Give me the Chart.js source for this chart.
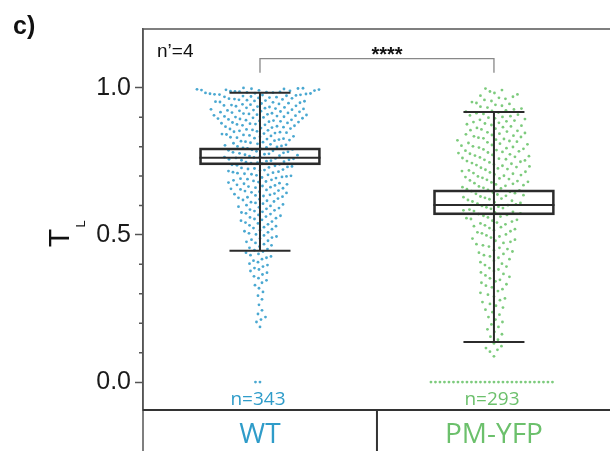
<!DOCTYPE html>
<html>
<head>
<meta charset="utf-8">
<script src="https://cdn.jsdelivr.net/npm/chart.js@4.4.1/dist/chart.umd.min.js"></script>
<style>
  html, body { margin: 0; padding: 0; background: #fff; overflow: hidden; }
  #wrap { width: 614px; height: 451px; position: relative; }
</style>
</head>
<body>
<div id="wrap"><canvas id="chart"></canvas></div>
<script>
// ===== Data =====
const categories = ['WT', 'PM-YFP'];
const sampleSizes = [343, 293];
const binWidth = 0.025;
// point counts per 0.025 bin of T_L, starting at 0.0
const wtBinCounts = [0, 0, 0, 0, 0, 0, 0, 1, 3, 2,
                     1, 2, 2, 3, 4, 5, 5, 6, 6, 7,
                     7, 8, 9, 10, 10, 12, 13, 13, 14, 14,
                     16, 15, 14, 16, 16, 19, 21, 19, 20, 28];
const pmBinCounts = [0, 0, 0, 1, 4, 2, 3, 3, 3, 3,
                     4, 4, 4, 5, 5, 5, 5, 6, 6, 7,
                     7, 8, 9, 10, 10, 11, 11, 11, 11, 11,
                     12, 12, 11, 11, 10, 10, 10, 8, 7, 5];
const zeroCounts = [2, 28];
const boxLow = [0.738, 0.568];
const boxHigh = [0.796, 0.653];
const medians = [0.762, 0.602];
const whiskerLow = [0.446, 0.136];
const whiskerHigh = [0.983, 0.918];
const yTicks = [0, 0.5, 1.0];
const yMinorTicks = [0.1, 0.2, 0.3, 0.4, 0.6, 0.7, 0.8, 0.9];

// ===== Styles =====
const pointColors = ['#4aa8d1', '#7dcb7d'];
const labelColors = ['#2f9cc9', '#6cc06c'];
const BOX_WIDTH = 121;
const CAP_WIDTH = 61;
const SWARM_GAP_X = 4.3;
const SWARM_GAP_Y = [7.5, 10];

// expand bin counts to values (evenly spaced inside each bin)
function valuesFromBins(counts, zeros) {
    const vals = [];
    for (let i = 0; i < zeros; i++) vals.push(0);
    counts.forEach((n, b) => {
        for (let k = 0; k < n; k++) {
            vals.push(b * binWidth + (k + 0.5) / n * binWidth);
        }
    });
    return vals;
}

const groupValues = [
    valuesFromBins(wtBinCounts, zeroCounts[0]),
    valuesFromBins(pmBinCounts, zeroCounts[1])
];

// beeswarm layout in pixel space -> x offsets
function swarmOffsets(pixYs, gx, gy) {
    const placed = [];
    const offsets = [];
    pixYs.forEach((py, idx) => {
        const near = placed.filter(p => Math.abs(p.y - py) < gy);
        let chosen = 0;
        for (let k = 0; k < 400; k++) {
            const step = k * 0.5;
            const cands = (idx % 2 === 0) ? [step, -step] : [-step, step];
            let ok = null;
            for (const cx of cands) {
                const hit = near.some(p => {
                    const dx = (p.x - cx) / gx, dy = (p.y - py) / gy;
                    return dx * dx + dy * dy < 1;
                });
                if (!hit) { ok = cx; break; }
            }
            if (ok !== null) { chosen = ok; break; }
        }
        placed.push({ x: chosen, y: py });
        offsets.push(chosen);
    });
    return offsets;
}

// ===== Decorations =====
const decorPlugin = {
    id: 'decor',
    afterDatasetsDraw(chart) {
        const { ctx, scales: { x, y } } = chart;
        ctx.save();
        ctx.strokeStyle = '#2b2b2b';
        ctx.lineWidth = 2;
        categories.forEach((c, i) => {
            const cx = x.getPixelForValue(i + 1);
            const yLo = y.getPixelForValue(whiskerLow[i]);
            const yHi = y.getPixelForValue(whiskerHigh[i]);
            ctx.beginPath();
            ctx.moveTo(cx, yLo); ctx.lineTo(cx, yHi);
            ctx.moveTo(cx - CAP_WIDTH / 2, yLo); ctx.lineTo(cx + CAP_WIDTH / 2, yLo);
            ctx.moveTo(cx - CAP_WIDTH / 2, yHi); ctx.lineTo(cx + CAP_WIDTH / 2, yHi);
            const ym = y.getPixelForValue(medians[i]);
            ctx.moveTo(cx - BOX_WIDTH / 2, ym); ctx.lineTo(cx + BOX_WIDTH / 2, ym);
            ctx.stroke();
        });
        ctx.restore();
    },
    afterDraw(chart) {
        const { ctx, chartArea: a, scales: { x, y } } = chart;
        const H = chart.height;
        ctx.save();
        // frame
        ctx.strokeStyle = '#555';
        ctx.lineWidth = 1.5;
        ctx.beginPath();
        ctx.moveTo(a.left, a.top); ctx.lineTo(a.right, a.top);
        ctx.moveTo(a.left, a.top); ctx.lineTo(a.left, H);
        ctx.stroke();
        ctx.strokeStyle = '#333';
        ctx.lineWidth = 2;
        ctx.beginPath();
        ctx.moveTo(a.left, a.bottom); ctx.lineTo(a.right, a.bottom);
        const xd = x.getPixelForValue(1.5);
        ctx.moveTo(xd, a.bottom); ctx.lineTo(xd, H);
        ctx.stroke();

        // minor ticks
        ctx.strokeStyle = '#555';
        ctx.lineWidth = 1.5;
        ctx.beginPath();
        yMinorTicks.forEach(v => {
            const py = y.getPixelForValue(v);
            ctx.moveTo(a.left - 4, py); ctx.lineTo(a.left, py);
        });
        ctx.stroke();

        // significance bracket
        const x1 = x.getPixelForValue(1), x2 = x.getPixelForValue(2);
        const yb = y.getPixelForValue(1.099), yl = y.getPixelForValue(1.051);
        ctx.strokeStyle = '#888';
        ctx.lineWidth = 1.3;
        ctx.beginPath();
        ctx.moveTo(x1, yl); ctx.lineTo(x1, yb); ctx.lineTo(x2, yb); ctx.lineTo(x2, yl);
        ctx.stroke();

        ctx.fillStyle = '#111';
        ctx.textBaseline = 'alphabetic';
        ctx.textAlign = 'center';
        ctx.font = 'bold 20px "Liberation Sans", Arial, sans-serif';
        ctx.fillText('****', (x1 + x2) / 2 + 10, 61);

        ctx.textAlign = 'left';
        ctx.font = '19px "Liberation Sans", Arial, sans-serif';
        ctx.fillText('n\u2019=4', 157, 57);

        ctx.font = 'bold 25px "Liberation Sans", Arial, sans-serif';
        ctx.fillText('c)', 13, 34);

        // sample sizes
        ctx.textAlign = 'center';
        ctx.textBaseline = 'middle';
        ctx.font = '19px "Open Sans", "Liberation Sans", sans-serif';
        categories.forEach((c, i) => {
            ctx.fillStyle = labelColors[i];
            ctx.fillText('n=' + sampleSizes[i], x.getPixelForValue(i + 1) - 2, y.getPixelForValue(-0.06));
        });

        // axis title T_L
        ctx.fillStyle = '#111';
        ctx.translate(61, 238);
        ctx.rotate(-Math.PI / 2);
        ctx.font = '30px "Liberation Sans", Arial, sans-serif';
        ctx.fillText('T', 0, 0);
        ctx.font = '13px "Liberation Sans", Arial, sans-serif';
        ctx.fillText('L', 14, 20);
        ctx.restore();
    }
};

// ===== Chart =====
const pointDatasets = categories.map((c, i) => ({
    type: 'scatter',
    label: c,
    data: groupValues[i].map(v => ({ x: i + 1, y: v })),
    backgroundColor: pointColors[i],
    borderWidth: 0,
    pointRadius: 1.4,
    order: 1
}));

const chart = new Chart(document.getElementById('chart'), {
    type: 'scatter',
    data: {
        datasets: [{
            type: 'bar',
            label: 'box',
            data: categories.map((c, i) => ({ x: i + 1, y: [boxLow[i], boxHigh[i]] })),
            backgroundColor: 'rgba(255,255,255,0)',
            borderColor: '#2b2b2b',
            borderWidth: 2,
            borderSkipped: false,
            barThickness: BOX_WIDTH,
            order: 0
        }, ...pointDatasets]
    },
    options: {
        responsive: true,
        maintainAspectRatio: false,
        animation: false,
        devicePixelRatio: 1,
        layout: { padding: { top: 29, left: 0, right: 0, bottom: 0 } },
        plugins: { legend: { display: false }, tooltip: { enabled: false } },
        scales: {
            x: {
                type: 'linear',
                min: 0.5,
                max: 2.496,
                offset: false,
                afterBuildTicks: s => { s.ticks = [{ value: 1 }, { value: 2 }]; },
                afterFit: s => { s.height = 41; },
                grid: { display: false },
                border: { display: false },
                ticks: {
                    callback: (v, i) => categories[i],
                    color: ctx => labelColors[ctx.index],
                    font: { size: 28, family: '"Open Sans", sans-serif' },
                    padding: 0,
                    maxRotation: 0
                }
            },
            y: {
                min: -0.095,
                max: 1.2,
                afterBuildTicks: s => { s.ticks = yTicks.map(v => ({ value: v })); },
                afterFit: s => { s.width = 143; },
                grid: { drawOnChartArea: false, tickLength: 8, tickColor: '#555', tickWidth: 1.5 },
                border: { color: '#555', width: 1.5 },
                ticks: {
                    callback: v => v.toFixed(1),
                    color: '#1a1a1a',
                    font: { size: 25, family: '"Liberation Sans", Arial, sans-serif' },
                    padding: 4
                }
            }
        }
    },
    plugins: [decorPlugin]
});

// place points as a beeswarm around each category centre
(function layoutSwarm() {
    const xs = chart.scales.x, ys = chart.scales.y;
    const pxPerUnit = xs.getPixelForValue(1) - xs.getPixelForValue(0);
    categories.forEach((c, i) => {
        const pix = groupValues[i].map(v => ys.getPixelForValue(v));
        const offs = swarmOffsets(pix, SWARM_GAP_X, SWARM_GAP_Y[i]);
        chart.data.datasets[i + 1].data = groupValues[i].map((v, k) => ({
            x: i + 1 + offs[k] / pxPerUnit,
            y: v
        }));
    });
    chart.update('none');
})();
</script>
</body>
</html>
